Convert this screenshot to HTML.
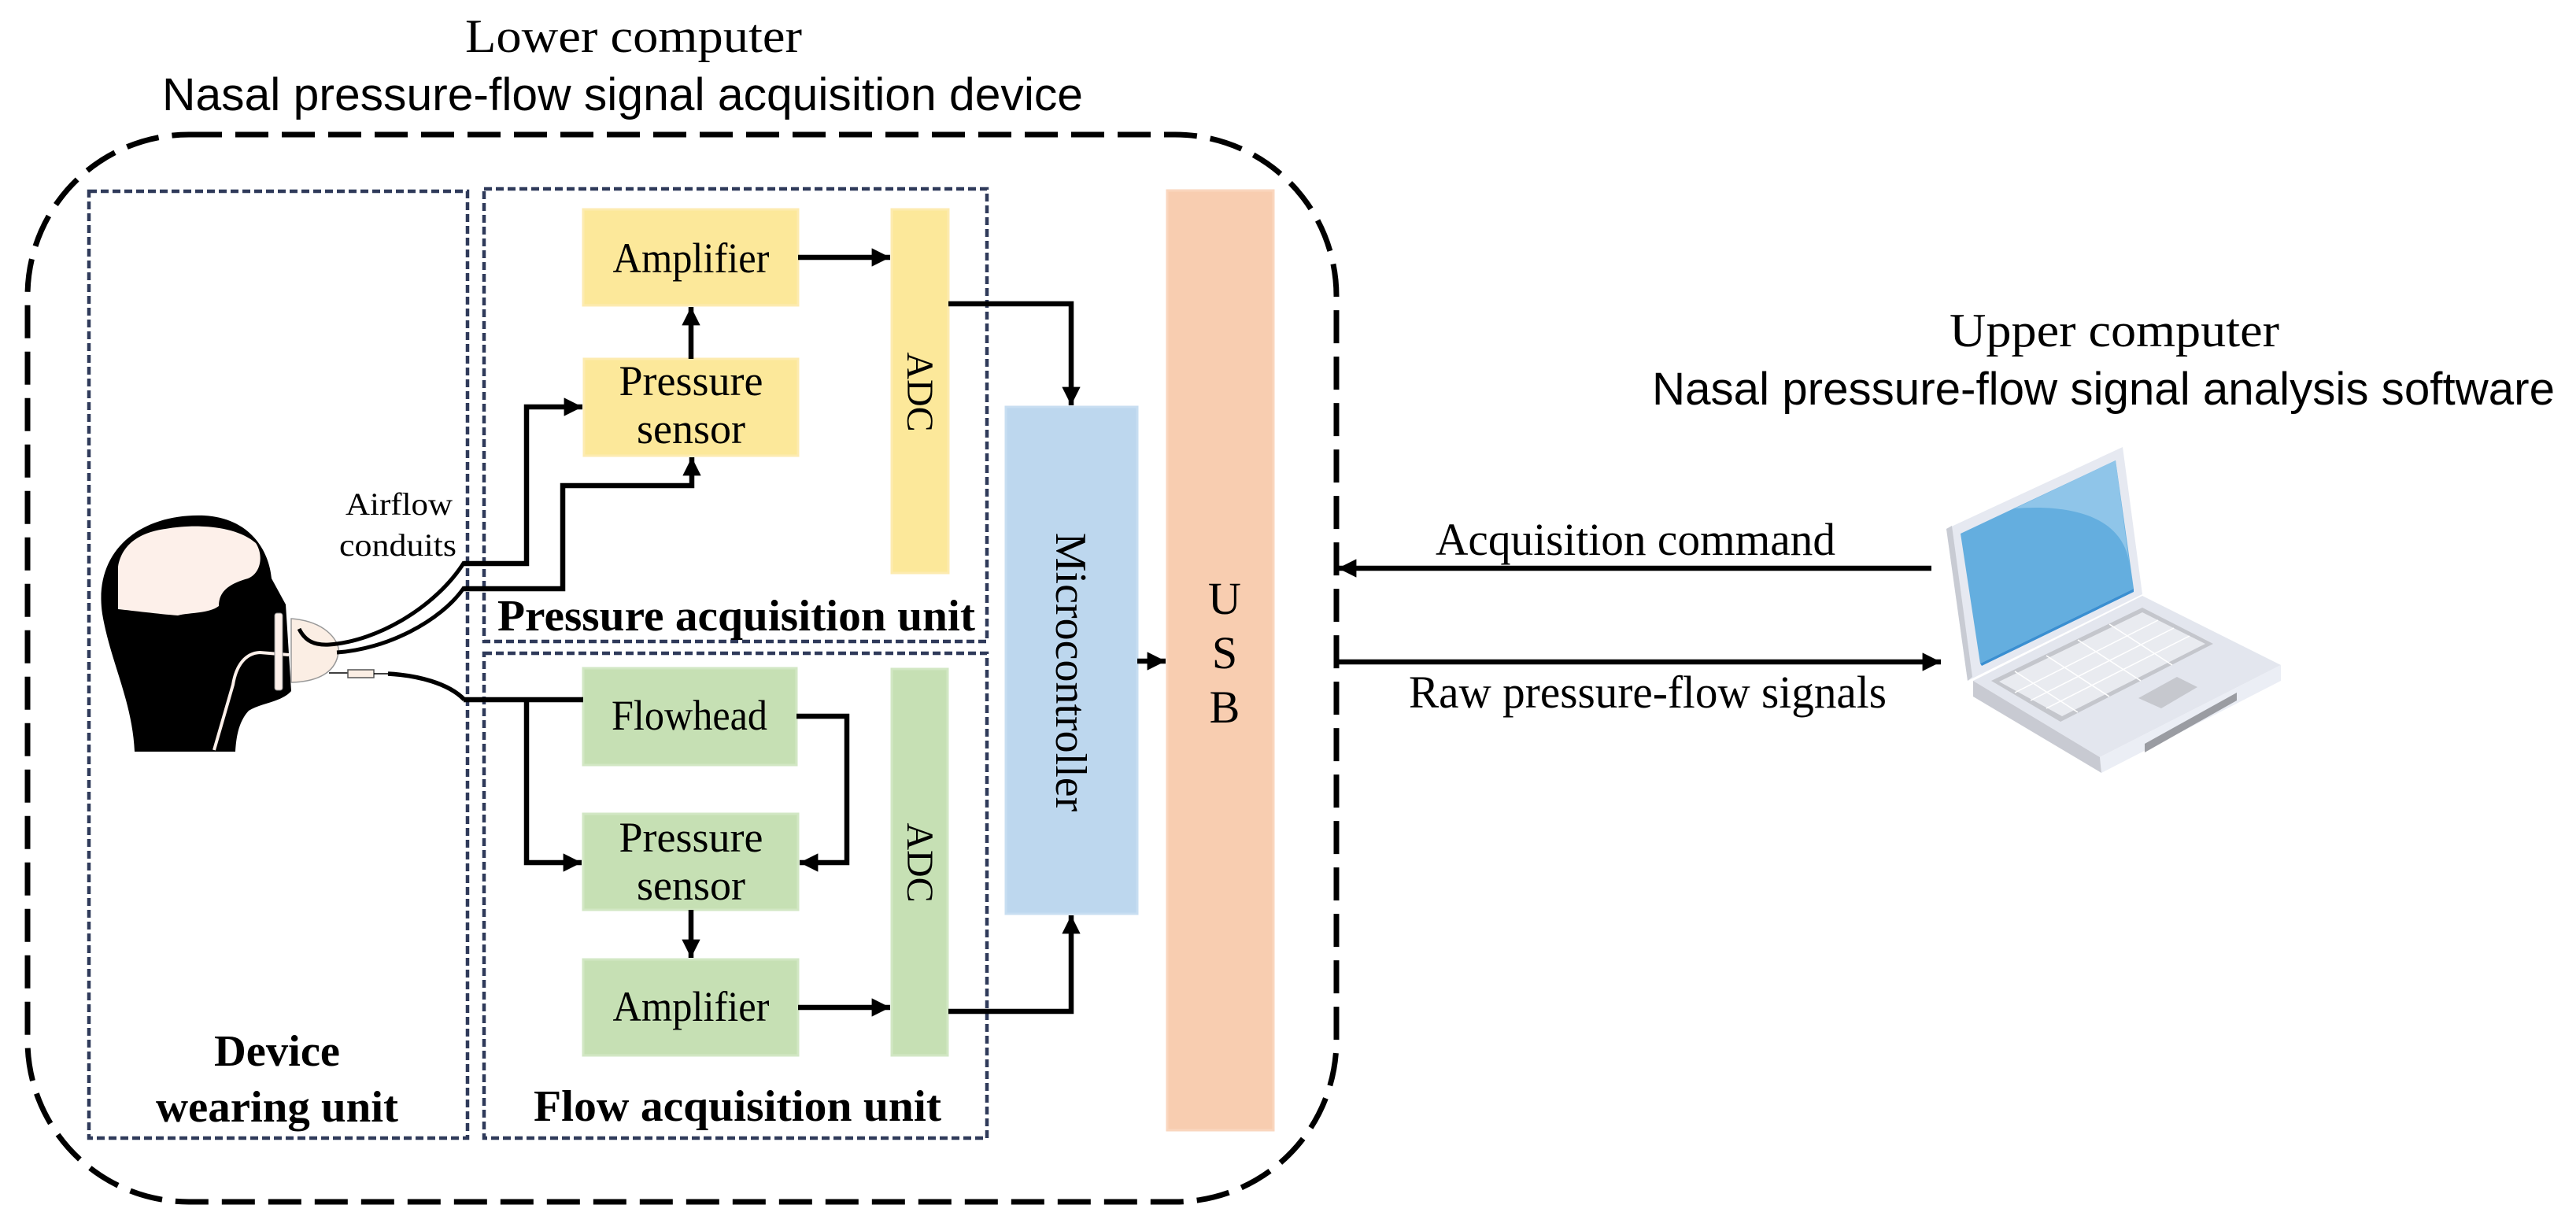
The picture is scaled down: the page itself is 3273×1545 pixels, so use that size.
<!DOCTYPE html>
<html><head><meta charset="utf-8"><style>
html,body{margin:0;padding:0;background:#fff;}
svg{display:block;}
.s{font-family:"Liberation Serif",serif;}
.a{font-family:"Liberation Sans",sans-serif;}
</style></head><body>
<svg width="3273" height="1545" viewBox="0 0 3273 1545" xmlns="http://www.w3.org/2000/svg">
<defs>
<marker id="ar" viewBox="0 0 10 10" refX="10" refY="5" markerWidth="3.6" markerHeight="3.6" markerUnits="strokeWidth" orient="auto">
<path d="M0,0 L10,5 L0,10 z" fill="#000"/></marker>
</defs>

<text class="s" x="591" y="66" font-size="60" textLength="428" lengthAdjust="spacingAndGlyphs">Lower computer</text>
<text class="a" x="206" y="140" font-size="58" textLength="1170" lengthAdjust="spacingAndGlyphs">Nasal pressure-flow signal acquisition device</text>
<text class="s" x="2477" y="440" font-size="60" textLength="419" lengthAdjust="spacingAndGlyphs">Upper computer</text>
<text class="a" x="2099" y="514" font-size="58" textLength="1147" lengthAdjust="spacingAndGlyphs">Nasal pressure-flow signal analysis software</text>

<rect x="35" y="171" width="1663" height="1356" rx="205" ry="205" fill="none" stroke="#000" stroke-width="7" stroke-dasharray="42,17"/>

<g fill="none" stroke="#2f3a5a" stroke-width="4.5" stroke-dasharray="10,5">
<rect x="113" y="243" width="481" height="1203"/>
<rect x="615" y="240" width="639" height="575"/>
<rect x="615" y="830" width="639" height="616"/>
</g>

<g fill="#fce89a" stroke="#fdebb0" stroke-width="3">
<rect x="741" y="266" width="273" height="122"/>
<rect x="742" y="456" width="272" height="123"/>
<rect x="1133" y="266" width="72" height="462"/>
</g>
<g fill="#c6e0b4" stroke="#d2e7c4" stroke-width="3">
<rect x="741" y="849" width="271" height="123"/>
<rect x="741" y="1034" width="273" height="122"/>
<rect x="741" y="1219" width="273" height="122"/>
<rect x="1133" y="850" width="71" height="491"/>
</g>
<rect x="1278" y="517" width="167" height="644" fill="#bdd7ee" stroke="#c8def1" stroke-width="3"/>
<rect x="1483" y="242" width="135" height="1194" fill="#f8cdb0" stroke="#fad6be" stroke-width="3"/>

<g class="s" font-size="54" text-anchor="middle">
<text x="878" y="346" textLength="199" lengthAdjust="spacingAndGlyphs">Amplifier</text>
<text x="878" y="502">Pressure</text>
<text x="878" y="563">sensor</text>
<text x="876" y="927" textLength="198" lengthAdjust="spacingAndGlyphs">Flowhead</text>
<text x="878" y="1082">Pressure</text>
<text x="878" y="1143">sensor</text>
<text x="878" y="1297" textLength="199" lengthAdjust="spacingAndGlyphs">Amplifier</text>
</g>
<g class="s" font-size="48" text-anchor="middle">
<text transform="translate(1153,498) rotate(90)">ADC</text>
<text transform="translate(1153,1096) rotate(90)">ADC</text>
</g>
<text class="s" font-size="56" text-anchor="middle" transform="translate(1342,854) rotate(90)">Microcontroller</text>
<g class="s" font-size="58" text-anchor="middle">
<text x="1556" y="780">U</text>
<text x="1556" y="849">S</text>
<text x="1556" y="918">B</text>
</g>

<g class="s" font-weight="bold" font-size="56">
<text x="632" y="801" textLength="607" lengthAdjust="spacingAndGlyphs">Pressure acquisition unit</text>
<text x="678" y="1424" textLength="518" lengthAdjust="spacingAndGlyphs">Flow acquisition unit</text>
<text x="352" y="1354" text-anchor="middle" textLength="160" lengthAdjust="spacingAndGlyphs">Device</text>
<text x="198" y="1425" textLength="308" lengthAdjust="spacingAndGlyphs">wearing unit</text>
</g>
<g class="s" font-size="40">
<text x="439" y="654" textLength="136" lengthAdjust="spacingAndGlyphs">Airflow</text>
<text x="431" y="706" textLength="149" lengthAdjust="spacingAndGlyphs">conduits</text>
</g>

<g fill="none" stroke="#000" stroke-width="6.5">
<path d="M1014,327 H1131" marker-end="url(#ar)"/>
<path d="M878,456 V390" marker-end="url(#ar)"/>
<path d="M1205,386 H1361 V515" marker-end="url(#ar)"/>
<path d="M589,716 H669 V517 H740" marker-end="url(#ar)"/>
<path d="M589,748 H715 V617 H879 V581" marker-end="url(#ar)"/>
<path d="M589,889 H741"/>
<path d="M669,889 V1096 H739" marker-end="url(#ar)"/>
<path d="M1012,910 H1076 V1096 H1016" marker-end="url(#ar)"/>
<path d="M878,1156 V1217" marker-end="url(#ar)"/>
<path d="M1014,1280 H1131" marker-end="url(#ar)"/>
<path d="M1205,1285 H1361 V1163" marker-end="url(#ar)"/>
<path d="M1445,840 H1481" marker-end="url(#ar)"/>
<path d="M2454,722 H1700" marker-end="url(#ar)"/>
<path d="M1698,841 H2466" marker-end="url(#ar)"/>
</g>
<g class="s" font-size="58">
<text x="1824" y="705" textLength="508" lengthAdjust="spacingAndGlyphs">Acquisition command</text>
<text x="1790" y="899" textLength="607" lengthAdjust="spacingAndGlyphs">Raw pressure-flow signals</text>
</g>

<path d="M171,955 C168,890 140,840 130,780 C118,700 178,652 259,655 C318,658 342,700 345,735 L363,768 L370,878 C358,892 332,893 316,903 C302,918 300,940 299,955 Z" fill="#000"/>
<path d="M150,720 C155,690 180,676 210,672 C250,665 300,668 325,690 C335,705 332,728 315,735 C290,742 278,752 278,770 C265,780 240,778 226,782 C200,780 170,776 150,774 Z" fill="#fdf0ea"/>
<path d="M367,832 L330,829 C312,830 300,845 296,870 L272,953" fill="none" stroke="#fdf0ea" stroke-width="4"/>
<rect x="349" y="779" width="10" height="98" rx="3" fill="#fdf0ea" stroke="#888" stroke-width="1"/>
<path d="M370,786 C420,790 432,820 430,828 C428,850 410,866 370,867 Z" fill="#fbeee4" stroke="#999" stroke-width="1.5"/>
<g fill="none" stroke="#000" stroke-width="5">
<path d="M380,799 C388,815 400,820 418,819 C480,815 555,770 590,714"/>
<path d="M428,829 C490,825 560,790 590,746"/>
<path d="M493,856 C530,858 570,868 590,889" stroke-width="5.5"/>
</g>
<path d="M418,855 H442" stroke="#000" stroke-width="1.5"/>
<rect x="442" y="851" width="33" height="10" fill="#fbeee4" stroke="#555" stroke-width="1.5"/>
<path d="M475,856 H493" stroke="#000" stroke-width="1.5"/>

<polygon points="2507,865 2722,757 2898,845 2668,962" fill="#e3e6ee"/>
<polygon points="2668,962 2898,845 2898,865 2670,982" fill="#ebeef5"/>
<polygon points="2507,865 2668,962 2670,982 2507,885" fill="#c8cad2"/>
<polygon points="2530,865 2722,772 2812,818 2618,917" fill="#c4c6cc"/>
<polygon points="2540,866 2722,778 2802,818 2620,910" fill="#e9ebf0"/>
<g stroke="#fff" stroke-width="1.5">
<line x1="2560" y1="880" x2="2742" y2="788"/><line x1="2580" y1="890" x2="2762" y2="798"/><line x1="2600" y1="900" x2="2782" y2="808"/>
<line x1="2560" y1="853" x2="2640" y2="905"/><line x1="2600" y1="833" x2="2680" y2="885"/><line x1="2640" y1="813" x2="2720" y2="865"/><line x1="2680" y1="793" x2="2760" y2="845"/>
</g>
<polygon points="2717,887 2766,860 2792,873 2746,900" fill="#c6c8ce"/>
<polygon points="2725,945 2842,880 2842,890 2725,956" fill="#9a9ca2"/>
<polygon points="2473,672 2697,568 2722,755 2500,865" fill="#e6e9f1"/>
<polygon points="2473,672 2480,668 2506,860 2500,865" fill="#c8cbd3"/>
<polygon points="2491,678 2688,585 2711,748 2516,843" fill="#64aedf"/>
<path d="M2560,646 C2640,640 2700,660 2706,720 L2688,585 Z" fill="#8fc5e9"/>
<polygon points="2516,843 2711,748 2711,752 2518,846" fill="#3a8fd1"/>
</svg>
</body></html>
